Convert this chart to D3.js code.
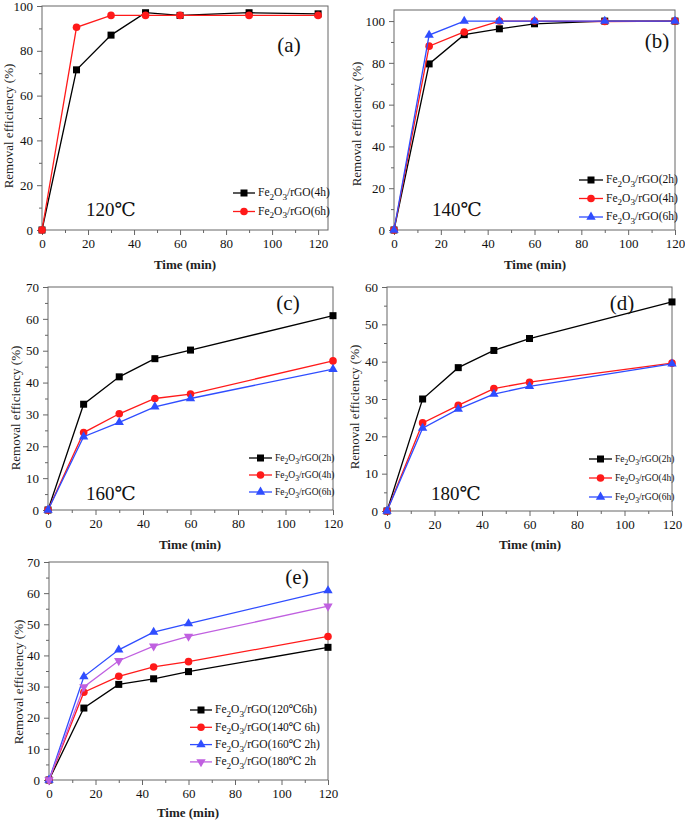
<!DOCTYPE html>
<html><head><meta charset="utf-8">
<script src="https://cdn.jsdelivr.net/npm/d3@7"></script>
<style>
body{margin:0;background:#fff}
svg{display:block}
svg text{font-family:"Liberation Serif","Times New Roman",Times,"DejaVu Serif","Noto Serif",serif !important;}
</style>
</head><body>
<svg id="c" width="685" height="820"></svg>
<script>
// ---------- DATA ----------
const times7 = [0, 15, 30, 45, 60, 90, 120];
const times6 = [0, 15, 30, 45, 60, 120];

const a_4h = [0, 71.5, 87, 97, 95.8, 97, 96.5];
const a_6h = [0, 90.5, 95.8, 95.8, 95.8, 95.8, 95.8];

const b_2h = [0, 79.5, 93.5, 96.3, 98.7, 100, 100];
const b_4h = [0, 88, 94.8, 100, 100, 99.8, 100];
const b_6h = [0, 93.3, 100, 100, 100, 100, 100];

const c_2h = [0, 33.2, 41.8, 47.5, 50.2, 61];
const c_4h = [0, 24.3, 30.2, 35, 36.4, 46.8];
const c_6h = [0, 23, 27.5, 32.4, 35, 44.2];

const d_2h = [0, 30, 38.4, 43, 46.2, 56];
const d_4h = [0, 23.6, 28.3, 32.8, 34.5, 39.6];
const d_6h = [0, 22.2, 27.3, 31.3, 33.4, 39.4];

const e_120 = [0, 23.1, 30.7, 32.5, 34.8, 42.6];
const e_140 = [0, 28.2, 33.3, 36.3, 38, 46.1];
const e_160 = [0, 33.2, 41.8, 47.5, 50.2, 60.8];
const e_180 = [0, 29.9, 38.3, 43, 46.1, 55.8];

const xTicks = [0, 20, 40, 60, 80, 100, 120];
const yTicksA = [0, 20, 40, 60, 80, 100];
const yTicksC = [0, 10, 20, 30, 40, 50, 60, 70];
const yTicksD = [0, 10, 20, 30, 40, 50, 60];

const labelsA = ["(4h)", "(6h)"];
const labelsB = ["(2h)", "(4h)", "(6h)"];
const labelsE = ["(120℃6h)", "(140℃ 6h)", "(160℃ 2h)", "(180℃ 2h"];
const tempLabels = ["120℃", "140℃", "160℃", "180℃"];
const panelTags = ["(a)", "(b)", "(c)", "(d)", "(e)"];

// ---------- STYLE ----------
const COL = {k: "#000000", r: "#ff1a1a", b: "#2f4dff", p: "#c060e0"};
const svg = d3.select("#c");

function marker(g, type, x, y, color) {
  if (type === "sq") g.append("rect").attr("x", x - 3.5).attr("y", y - 3.5).attr("width", 7).attr("height", 7).attr("fill", color);
  else if (type === "ci") g.append("circle").attr("cx", x).attr("cy", y).attr("r", 3.8).attr("fill", color);
  else {
    const s = d3.symbol().type(d3.symbolTriangle).size(38)();
    g.append("path").attr("d", s).attr("fill", color)
      .attr("transform", `translate(${x},${y})` + (type === "dn" ? " rotate(180)" : ""));
  }
}

function panel(cfg) {
  const g = svg.append("g");
  const x = d3.scaleLinear().domain(cfg.xDom).range([cfg.L, cfg.R]);
  const y = d3.scaleLinear().domain(cfg.yDom).range([cfg.B, cfg.T]);
  g.append("rect").attr("x", cfg.L).attr("y", cfg.T).attr("width", cfg.R - cfg.L).attr("height", cfg.B - cfg.T)
    .attr("fill", "none").attr("stroke", "#666").attr("stroke-width", 1);
  const xa = g.append("g").attr("transform", `translate(0,${cfg.B})`)
    .call(d3.axisBottom(x).tickValues(xTicks).tickSize(5).tickPadding(4).tickFormat(d3.format("d")));
  const xm = g.append("g").attr("transform", `translate(0,${cfg.B})`)
    .call(d3.axisBottom(x).tickValues(d3.range(10, 125, 20)).tickSize(3).tickFormat(""));
  const ya = g.append("g").attr("transform", `translate(${cfg.L},0)`)
    .call(d3.axisLeft(y).tickValues(cfg.yTicks).tickSize(5).tickPadding(4).tickFormat(d3.format("d")));
  const ym = g.append("g").attr("transform", `translate(${cfg.L},0)`)
    .call(d3.axisLeft(y).tickValues(d3.range(cfg.yMinor, cfg.yDom[1], cfg.yMinor * 2)).tickSize(3).tickFormat(""));
  [xa, xm, ya, ym].forEach(a => {
    a.attr("font-family", null);
    a.select(".domain").remove();
    a.selectAll("line").attr("stroke", "#666");
    a.selectAll("text").attr("font-size", 13).attr("fill", "#111");
  });
  g.append("text").attr("x", cfg.xtX).attr("y", cfg.xtY).attr("text-anchor", "middle")
    .attr("font-size", 13).attr("font-weight", "bold").attr("fill", "#222").text("Time (min)");
  g.append("text").attr("transform", `translate(${cfg.ytX},${cfg.ytY}) rotate(-90)`).attr("text-anchor", "middle")
    .attr("font-size", 13).attr("fill", "#222").text("Removal efficiency (%)");
  cfg.series.forEach(s => {
    const pts = s.vals.map((v, i) => [s.t[i], v]);
    g.append("path").datum(pts).attr("fill", "none").attr("stroke", s.c).attr("stroke-width", 1.3)
      .attr("d", d3.line().x(d => x(d[0])).y(d => y(d[1])));
    pts.forEach(p => marker(g, s.m, x(p[0]), y(p[1]), s.c));
  });
  cfg.series.forEach((s, i) => {
    const ly = cfg.lg.y + i * cfg.lg.dy;
    g.append("line").attr("x1", cfg.lg.x).attr("x2", cfg.lg.x + cfg.lg.w).attr("y1", ly).attr("y2", ly)
      .attr("stroke", s.c).attr("stroke-width", 1.3);
    marker(g, s.m, cfg.lg.x + cfg.lg.w / 2, ly, s.c);
    const t = g.append("text").attr("x", cfg.lg.x + cfg.lg.w + 3).attr("y", ly + cfg.lg.fs * 0.3)
      .attr("font-size", cfg.lg.fs).attr("fill", "#111");
    t.append("tspan").text("Fe");
    t.append("tspan").attr("dy", cfg.lg.fs * 0.3).attr("font-size", cfg.lg.fs * 0.8).text("2");
    t.append("tspan").attr("dy", -cfg.lg.fs * 0.3).text("O");
    t.append("tspan").attr("dy", cfg.lg.fs * 0.3).attr("font-size", cfg.lg.fs * 0.8).text("3");
    t.append("tspan").attr("dy", -cfg.lg.fs * 0.3).text("/rGO" + s.label);
  });
  g.append("text").attr("x", cfg.tag.x).attr("y", cfg.tag.y).attr("text-anchor", "middle")
    .attr("font-size", 21).attr("fill", "#111").text(cfg.tag.t);
  if (cfg.temp) g.append("text").attr("x", cfg.temp.x).attr("y", cfg.temp.y)
    .attr("font-size", 19).attr("fill", "#111").text(cfg.temp.t);
}

panel({L: 42, R: 328, T: 6, B: 230, xDom: [0, 124.3], yDom: [0, 100], yTicks: yTicksA, yMinor: 10,
  xtX: 185, xtY: 269, ytX: 13, ytY: 126,
  series: [
    {t: times7, vals: a_4h, c: COL.k, m: "sq", label: labelsA[0]},
    {t: times7, vals: a_6h, c: COL.r, m: "ci", label: labelsA[1]}],
  lg: {x: 233, y: 193, dy: 18.5, w: 22, fs: 11.5},
  tag: {x: 289, y: 52, t: panelTags[0]}, temp: {x: 86, y: 216, t: tempLabels[0]}});

panel({L: 394, R: 675, T: 10, B: 230, xDom: [0, 120], yDom: [0, 105.3], yTicks: yTicksA, yMinor: 10,
  xtX: 535, xtY: 269, ytX: 361, ytY: 124,
  series: [
    {t: times7, vals: b_2h, c: COL.k, m: "sq", label: labelsB[0]},
    {t: times7, vals: b_4h, c: COL.r, m: "ci", label: labelsB[1]},
    {t: times7, vals: b_6h, c: COL.b, m: "up", label: labelsB[2]}],
  lg: {x: 579, y: 180, dy: 18.5, w: 24, fs: 11.5},
  tag: {x: 657, y: 48, t: panelTags[1]}, temp: {x: 432, y: 216, t: tempLabels[1]}});

panel({L: 48, R: 333, T: 287, B: 510, xDom: [0, 120], yDom: [0, 70], yTicks: yTicksC, yMinor: 5,
  xtX: 190, xtY: 549, ytX: 20, ytY: 408,
  series: [
    {t: times6, vals: c_2h, c: COL.k, m: "sq", label: labelsB[0]},
    {t: times6, vals: c_4h, c: COL.r, m: "ci", label: labelsB[1]},
    {t: times6, vals: c_6h, c: COL.b, m: "up", label: labelsB[2]}],
  lg: {x: 249, y: 458, dy: 17, w: 23, fs: 9.5},
  tag: {x: 288, y: 310, t: panelTags[2]}, temp: {x: 86, y: 500, t: tempLabels[2]}});

panel({L: 387, R: 672, T: 287, B: 511, xDom: [0, 120], yDom: [0, 60], yTicks: yTicksD, yMinor: 5,
  xtX: 530, xtY: 549, ytX: 359, ytY: 407,
  series: [
    {t: times6, vals: d_2h, c: COL.k, m: "sq", label: labelsB[0]},
    {t: times6, vals: d_4h, c: COL.r, m: "ci", label: labelsB[1]},
    {t: times6, vals: d_6h, c: COL.b, m: "up", label: labelsB[2]}],
  lg: {x: 589, y: 459, dy: 19, w: 23, fs: 9.5},
  tag: {x: 622, y: 310, t: panelTags[3]}, temp: {x: 431, y: 500, t: tempLabels[3]}});

panel({L: 49, R: 328, T: 562, B: 780, xDom: [0, 120], yDom: [0, 70], yTicks: yTicksC, yMinor: 5,
  xtX: 188, xtY: 817, ytX: 23, ytY: 682,
  series: [
    {t: times6, vals: e_120, c: COL.k, m: "sq", label: labelsE[0]},
    {t: times6, vals: e_140, c: COL.r, m: "ci", label: labelsE[1]},
    {t: times6, vals: e_160, c: COL.b, m: "up", label: labelsE[2]},
    {t: times6, vals: e_180, c: COL.p, m: "dn", label: labelsE[3]}],
  lg: {x: 190, y: 710, dy: 17.3, w: 22, fs: 11.5},
  tag: {x: 297, y: 584, t: panelTags[4]}, temp: null});
</script>
</body></html>
